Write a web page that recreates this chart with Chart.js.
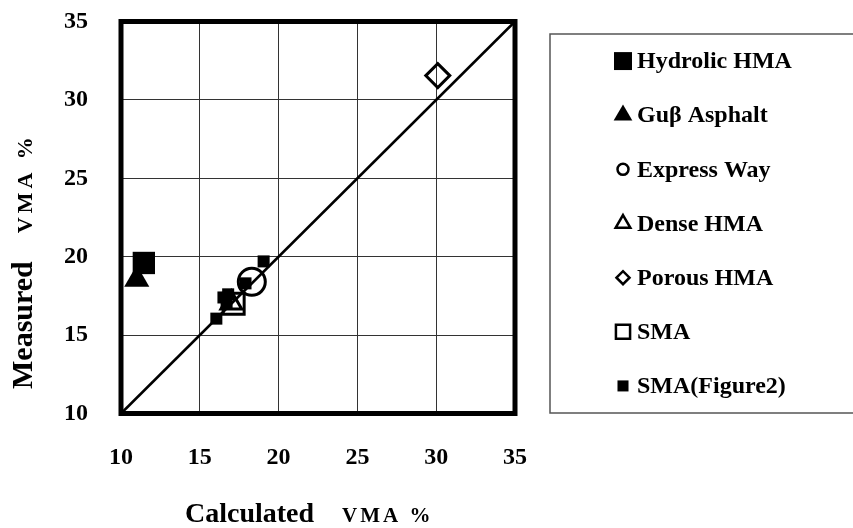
<!DOCTYPE html>
<html>
<head>
<meta charset="utf-8">
<script src="https://cdn.jsdelivr.net/npm/chart.js@4/dist/chart.umd.min.js"></script>
<style>
  html, body { margin: 0; padding: 0; background: #fff; }
  #wrap { width: 853px; height: 528px; }
</style>
</head>
<body>
<div id="wrap"><canvas id="c" width="853" height="528"></canvas></div>
<script>
// Measured vs. calculated VMA (%) for each mixture type
const seriesNames = ['Hydrolic HMA', 'Guβ Asphalt', 'Express Way', 'Dense HMA', 'Porous HMA', 'SMA', 'SMA(Figure2)'];

const hydrolicX = [11.45];
const hydrolicY = [19.6];
const gussX = [11.0];
const gussY = [18.55];
const expressX = [18.3];
const expressY = [18.4];
const denseX = [17.0];
const denseY = [17.05];
const porousX = [30.1];
const porousY = [31.55];
const smaX = [17.15];
const smaY = [17.0];
const smaFig2X = [16.05, 16.5, 16.8, 16.7, 17.9, 19.05];
const smaFig2Y = [16.05, 17.4, 17.6, 17.1, 18.3, 19.7];

// line of equality (calculated = measured)
const equalityX = [10, 35];
const equalityY = [10, 35];

const axisMin = 10;
const axisMax = 35;
const axisStep = 5;

const pts = (xs, ys) => xs.map((x, i) => ({ x, y: ys[i] }));

const FONT = '"Liberation Serif", "Times New Roman", serif';

const markerStyles = [
  { pointStyle: 'rect',     radius: 15.8, fill: '#000', border: 0,   legendRadius: 12.7 },
  { pointStyle: 'triangle', radius: 14.5, fill: '#000', border: 0,   legendRadius: 10.8 },
  { pointStyle: 'circle',   radius: 13.5, fill: 'rgba(0,0,0,0)', border: 3, legendRadius: 5.5 },
  { pointStyle: 'triangle', radius: 12,   fill: 'rgba(0,0,0,0)', border: 3, legendRadius: 8.5 },
  { pointStyle: 'rectRot',  radius: 12,   fill: 'rgba(0,0,0,0)', border: 3, legendRadius: 6.5 },
  { pointStyle: 'rect',     radius: 14.8, fill: 'rgba(0,0,0,0)', border: 3, legendRadius: 10 },
  { pointStyle: 'rect',     radius: 8.5,  fill: '#000', border: 0,   legendRadius: 7.8 }
];

const seriesData = [
  pts(hydrolicX, hydrolicY),
  pts(gussX, gussY),
  pts(expressX, expressY),
  pts(denseX, denseY),
  pts(porousX, porousY),
  pts(smaX, smaY),
  pts(smaFig2X, smaFig2Y)
];

const drawOrder = [2, 2, 2, 2, 2, 2, 1];

const datasets = seriesNames.map((name, i) => ({
  label: name,
  data: seriesData[i],
  order: drawOrder[i],
  pointStyle: markerStyles[i].pointStyle,
  pointRadius: markerStyles[i].radius,
  pointHoverRadius: markerStyles[i].radius,
  pointBackgroundColor: markerStyles[i].fill,
  pointBorderColor: '#000',
  pointBorderWidth: markerStyles[i].border,
  clip: false
}));

datasets.push({
  type: 'line',
  label: '',
  data: pts(equalityX, equalityY),
  order: 0,
  borderColor: '#000',
  borderWidth: 2.5,
  pointRadius: 0,
  showLine: true,
  fill: false,
  clip: false
});

// thick frame round the plot area
const framePlugin = {
  id: 'frame',
  afterDatasetsDraw(chart) {
    const { ctx, chartArea: a } = chart;
    ctx.save();
    ctx.strokeStyle = '#000';
    ctx.lineWidth = 5;
    ctx.lineJoin = 'miter';
    ctx.strokeRect(a.left, a.top, a.right - a.left, a.bottom - a.top);
    ctx.restore();
  }
};

// boxed legend on the right
const legendBoxPlugin = {
  id: 'legendBox',
  afterDraw(chart) {
    const { ctx } = chart;
    const box = { left: 550, top: 34, right: 860, bottom: 413 };
    ctx.save();
    ctx.strokeStyle = '#555';
    ctx.lineWidth = 1.5;
    ctx.strokeRect(box.left, box.top, box.right - box.left, box.bottom - box.top);
    const n = seriesNames.length;
    const rowH = (box.bottom - box.top) / n;
    const markerX = 623;
    const textX = 637;
    ctx.font = 'bold 24px ' + FONT;
    ctx.textAlign = 'left';
    ctx.textBaseline = 'middle';
    seriesNames.forEach((name, i) => {
      const y = box.top + rowH * (i + 0.5);
      const m = markerStyles[i];
      ctx.fillStyle = m.border ? '#fff' : '#000';
      ctx.strokeStyle = '#000';
      ctx.lineWidth = m.border ? 2.5 : 0;
      Chart.helpers.drawPoint(ctx, {
        pointStyle: m.pointStyle,
        radius: m.legendRadius,
        rotation: 0,
        borderWidth: m.border ? 2.5 : 0
      }, markerX, y);
      ctx.fillStyle = '#000';
      ctx.fillText(name, textX, y + 1);
    });
    ctx.restore();
  }
};

// axis titles, each in two sizes
const axisTitlePlugin = {
  id: 'axisTitles',
  afterDraw(chart) {
    const { ctx } = chart;
    ctx.save();
    ctx.fillStyle = '#000';
    ctx.textAlign = 'left';
    ctx.textBaseline = 'alphabetic';
    // x title
    ctx.font = 'bold 28px ' + FONT;
    ctx.fillText('Calculated', 185, 522);
    ctx.font = 'bold 21px ' + FONT;
    ctx.letterSpacing = '3px';
    ctx.fillText('VMA %', 342, 522);
    ctx.letterSpacing = '0px';
    // y title
    ctx.translate(32, 389);
    ctx.rotate(-Math.PI / 2);
    ctx.font = 'bold 30px ' + FONT;
    ctx.fillText('Measured', 0, 0);
    const w = ctx.measureText('Measured').width;
    ctx.font = 'bold 22px ' + FONT;
    ctx.letterSpacing = '4px';
    ctx.fillText('VMA %', w + 28, 0);
    ctx.restore();
  }
};

const tickFont = { family: FONT, weight: 'bold', size: 24 };

new Chart(document.getElementById('c'), {
  type: 'scatter',
  data: { datasets },
  options: {
    responsive: false,
    animation: false,
    devicePixelRatio: 1,
    events: [],
    layout: { padding: { top: 21.5, right: 338, left: 0, bottom: 0 } },
    plugins: {
      legend: { display: false },
      tooltip: { enabled: false }
    },
    scales: {
      x: {
        type: 'linear',
        min: axisMin,
        max: axisMax,
        afterFit(scale) {
          scale.height = 114.5;
          scale.paddingLeft = 0;
          scale.paddingRight = 0;
        },
        ticks: { stepSize: axisStep, padding: 30, color: '#000', font: tickFont, maxRotation: 0 },
        grid: { color: '#333', lineWidth: 1, drawTicks: false },
        border: { display: false }
      },
      y: {
        type: 'linear',
        min: axisMin,
        max: axisMax,
        afterFit(scale) {
          scale.width = 121;
          scale.paddingTop = 0;
          scale.paddingBottom = 0;
        },
        ticks: { stepSize: axisStep, padding: 33, color: '#000', font: tickFont },
        grid: { color: '#333', lineWidth: 1, drawTicks: false },
        border: { display: false }
      }
    }
  },
  plugins: [framePlugin, legendBoxPlugin, axisTitlePlugin]
});
</script>
</body>
</html>
